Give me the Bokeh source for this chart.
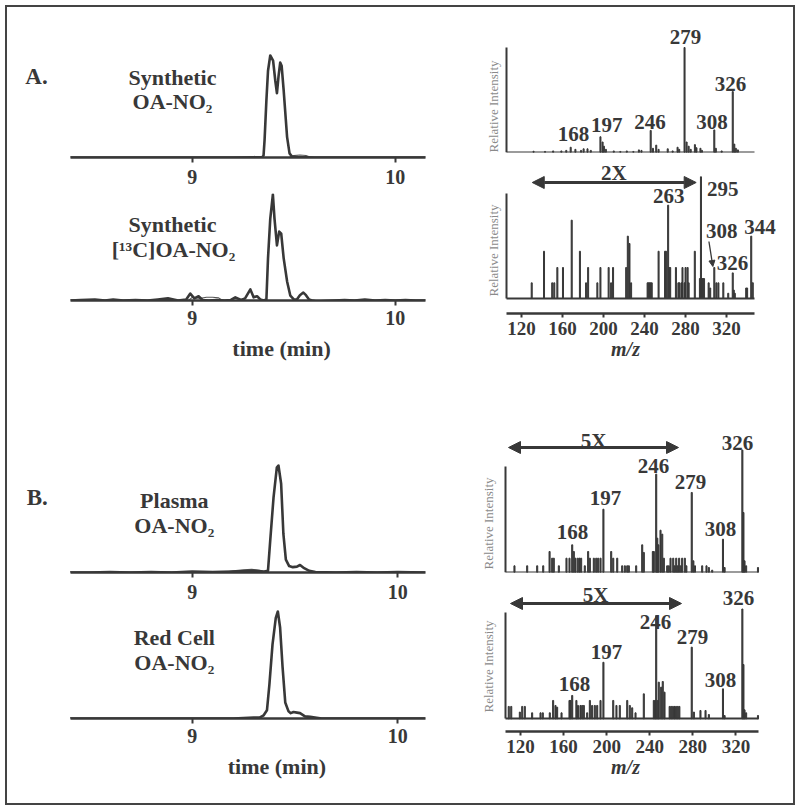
from math import pi
from bokeh.plotting import figure
from bokeh.models import Label, Arrow, NormalHead, FixedTicker, Range1d, LinearAxis
from bokeh.layouts import column, row
from bokeh.embed import file_html
from bokeh.resources import INLINE

FONT = "Liberation Serif"
INK = "#383838"

# ---------------- chromatogram data (time in min, intensity; peak = 100) ----------------
a1_t = [8.40, 8.60, 8.80, 9.00, 9.20, 9.30, 9.345, 9.351, 9.356, 9.365, 9.373, 9.384, 9.398, 9.409,
        9.417, 9.425, 9.433, 9.440, 9.450, 9.467, 9.479, 9.491, 9.52, 9.60, 9.80, 10.00, 10.15]
a1_v = [0, 0, 0, 0, 0, 0.3, 0.5, 2, 17, 56, 85, 100, 95, 75,
        63, 80, 93, 90, 66, 20, 4, 1, 0.5, 0, 0, 0, 0]
a1_thin_t = [9.48, 9.50, 9.53, 9.56, 9.58, 9.60]
a1_thin_v = [1, 2, 2.5, 2, 0.5, 0]

a2_t = [8.40, 8.45, 8.52, 8.57, 8.61, 8.66, 8.72, 8.78, 8.83, 8.88, 8.93, 8.97, 8.99, 9.01, 9.031,
        9.05, 9.08, 9.12, 9.16, 9.19, 9.212, 9.24, 9.26, 9.286, 9.302, 9.319, 9.335, 9.351, 9.365,
        9.373, 9.384, 9.397, 9.405, 9.417, 9.428, 9.438, 9.450, 9.467, 9.483, 9.50, 9.515, 9.53,
        9.547, 9.56, 9.575, 9.59, 9.614, 9.65, 9.70, 9.75, 9.80, 9.85, 9.90, 9.95, 10.00, 10.05,
        10.10, 10.15]
a2_v = [0, 0.5, 1, 0, 1, 0, 0.5, 0, 1, 2, 0, 1, 6.5, 2, 4,
        0.5, 0, 0.5, 0, 0.5, 3, 0.5, 2, 10.5, 3, 4, 1, 0, 1,
        40, 77, 100, 77, 52, 65, 63, 40, 18, 4.5, 1, 1, 5,
        7.5, 5, 1, 0, -1, -0.5, 0, 0.5, 0, 1, 0, 0.5, 0, 0.5,
        0, 0]
a2_thin_t = [8.98, 9.00, 9.04, 9.07, 9.10, 9.13, 9.15]
a2_thin_v = [0, 3, 2, 3, 3, 2.5, 0]

b1_t = [8.406, 8.50, 8.60, 8.70, 8.80, 8.90, 9.00, 9.10, 9.20, 9.30, 9.35, 9.369, 9.380, 9.396,
        9.412, 9.420, 9.433, 9.444, 9.456, 9.472, 9.49, 9.51, 9.525, 9.545, 9.57, 9.60, 9.70,
        9.80, 9.90, 10.00, 10.135]
b1_v = [0, 0, 0.5, 0, 0.5, 0, 1, 0.5, 1, 1.5, 1, 1.5, 30, 70,
        98, 100, 83, 36, 12, 6, 5, 5.5, 7, 4, 1.5, 0.5, 0,
        0.5, 0, 0.5, 0]
b1_thin_t = [9.15, 9.20, 9.25, 9.29, 9.33, 9.36]
b1_thin_v = [0, 1.5, 2.5, 3, 2, 0]

b2_t = [8.406, 8.60, 8.80, 9.00, 9.20, 9.25, 9.30, 9.33, 9.348, 9.364, 9.376, 9.391, 9.407,
        9.417, 9.428, 9.440, 9.453, 9.469, 9.48, 9.493, 9.51, 9.525, 9.549, 9.575, 9.598, 9.63,
        9.70, 9.80, 9.90, 10.00, 10.135]
b2_v = [0, 0, 0, 0, 0, 0.5, 1, 1, 3, 7.7, 32, 69, 94,
        100, 85, 48, 15, 6.7, 5, 6, 5.5, 5, 2, 1.5, 1, 0,
        0, 0, 0, 0, 0]

chrom_ticks = [9, 10]
time_a = (8.40, 10.15)      # extent of the time axes, panel A
time_b = (8.406, 10.135)    # extent of the time axes, panel B

# ---------------- MS/MS spectra (m/z, relative intensity) ----------------
sa1_mz = [131.8, 143, 150.9, 158.9, 163.7, 168, 172.6, 178.1, 180.6, 184.4, 187.6, 197, 199.1, 200.4,
          202.3, 210, 216.4, 222.7, 229.1, 234.5, 237, 246, 248.2, 251.4, 253.7, 262.6, 267.4, 272.2,
          273.8, 279, 281, 283, 285, 289.1, 290.6, 294.5, 296, 308, 309.5, 315.2, 326, 327.5, 329, 331]
sa1_int = [1.2, 1, 1.5, 1.5, 2, 5, 3, 2, 3.5, 3.5, 2, 15, 10, 6,
           3, 1.5, 1, 1.5, 1, 2.5, 2, 21, 4, 7, 3, 3.5, 1.5, 5,
           3, 100, 10, 6, 3, 7.5, 4.5, 4, 2, 21.5, 4, 1.5, 58, 8, 4, 2.5]

sa2_mz = [130, 142, 150, 152, 155, 160.5, 169, 177, 183, 185, 194, 197, 205, 207.4, 209.3, 222.1,
          223.7, 225.3, 226.9, 243, 244, 245, 246, 247, 253.7, 260, 261, 263, 264, 265, 270.6, 273,
          274, 276, 277, 279, 280, 282, 283, 289, 294, 295, 296, 297, 298, 302.5, 304, 308, 310,
          312, 316.8, 321.6, 326, 327, 328, 339.1, 340, 344, 345.5]
sa2_int = [14.9, 45, 14.9, 14.9, 29.5, 29.5, 74.6, 45, 14.9, 29.5, 14.9, 29.5, 29.5, 14.9, 29.5, 29.5,
           59.4, 52.4, 14.9, 14.9, 14.9, 14.9, 14.9, 14.9, 45, 45, 45, 88.9, 29.5, 29.5, 29.5, 14.9,
           14.9, 14.9, 29.5, 14.9, 29.5, 29.5, 14.9, 45, 19, 115.9, 19, 19, 19, 14.9, 10, 29.5, 14.9,
           14.9, 14.9, 5, 24.4, 8, 5, 10, 10, 59.4, 15]

sb1_mz = [114.4, 126.2, 135.5, 141.1, 147, 149.4, 150.9, 155.6, 162.7, 165.5, 168, 169.5, 171, 173.2,
          174.8, 176.3, 179.7, 182.8, 184.4, 188.1, 190.3, 192.1, 194.3, 197, 204.2, 206.1, 209.8,
          214.4, 216.9, 219.1, 220.6, 227.4, 233, 234.5, 242.9, 243.8, 246, 247, 248, 250, 251.6,
          253.1, 256.2, 257.7, 259.3, 261.8, 263.2, 264.6, 266, 267.3, 268.8, 270.1, 272.6, 274, 279,
          280.5, 282, 288.7, 292.7, 294.9, 298, 308, 309.5, 326, 327, 328, 329.5, 340.5]
sb1_int = [6.3, 6.3, 6.3, 6.3, 19.8, 13.5, 13.5, 6.3, 13.5, 13.5, 26.1, 19.8, 13.5, 13.5,
           13.5, 13.5, 6.3, 19.8, 13.5, 13.5, 13.5, 13.5, 13.5, 59.7, 19.8, 13.5, 13.5,
           6.3, 6.3, 6.3, 6.3, 6.3, 26.1, 18.9, 19.8, 19.8, 92.8, 32.4, 26.1, 39.9, 36.2,
           13.5, 6.3, 6.3, 13.5, 13.5, 6.3, 13.5, 6.3, 13.5, 6.3, 13.5, 13.5, 6.3, 75.5,
           11, 6.3, 6.3, 6.3, 4.7, 2.2, 31.4, 4.7, 115.5, 56.6, 11, 6.3, 4.7]

sb2_mz = [109.1, 111.4, 119.4, 121.6, 124, 130.8, 138.6, 140.7, 147.2, 150.3, 152.5, 154, 158.1, 165.5,
          166.5, 168, 171.9, 173.4, 175.7, 177.3, 178.8, 181.9, 184.4, 186.5, 189, 191.2, 194.3, 197,
          206.1, 209.1, 212.2, 219.1, 221.5, 223.7, 226.8, 234.5, 243.8, 245.1, 246, 247.5, 248.4,
          250.6, 252.1, 253.7, 258.5, 260, 261.5, 263, 264.5, 266, 267.5, 279, 281, 287.1, 291.8,
          294.9, 308, 309.5, 326, 327, 328, 329.5, 340.5]
sb2_int = [11.6, 11.6, 6.3, 11.6, 11.6, 5.6, 5.6, 5.6, 5.6, 17.2, 12.5, 10.9, 5.6, 17.2,
           17.2, 21.9, 17.2, 12.5, 12.5, 12.5, 12.5, 5.6, 17.2, 12.5, 12.5, 12.5, 17.2, 53,
           17.2, 12.5, 12.5, 17.2, 12.5, 10.3, 5.6, 23.4, 17.2, 17.2, 96.9, 17.2, 34.4,
           29.7, 35, 25, 11.6, 11.6, 11.6, 11.6, 11.6, 11.6, 11.6, 67.2, 6.3, 7.8, 7.8,
           4, 28.1, 3, 103, 50.9, 8.4, 5.6, 3.1]

mz_ticks = [120, 160, 200, 240, 280, 320]
mz_a = (105.6, 346.8)   # extent of the m/z axes, panel A
mz_b = (106.1, 341.4)   # extent of the m/z axes, panel B


# ---------------- helpers ----------------
def build(box, frame, xr, yr):
    L, R, T, B = box
    fl, fr, ft, fb = frame
    p = figure(width=R - L, height=B - T, x_range=Range1d(*xr), y_range=Range1d(*yr),
               min_border_left=fl - L, min_border_right=R - fr,
               min_border_top=ft - T, min_border_bottom=B - fb,
               x_axis_location=None, y_axis_location=None,
               output_backend="svg", toolbar_location=None)
    p.outline_line_color = None
    p.xgrid.visible = False
    p.ygrid.visible = False
    p.background_fill_color = "white"
    p.border_fill_color = "white"

    def to_data(px, py):
        return (xr[0] + (px - fl) / (fr - fl) * (xr[1] - xr[0]),
                yr[0] + (fb - py) / (fb - ft) * (yr[1] - yr[0]))
    return p, to_data


def xrange_for(frame, anchor_px, anchor_val, scale):
    fl, fr = frame[0], frame[1]
    return (anchor_val - (anchor_px - fl) / scale, anchor_val + (fr - anchor_px) / scale)


def put(p, td, px, py, text, size, style="bold", color=INK, align="center", angle=0.0):
    x, y = td(px, py)
    p.add_layout(Label(x=x, y=y, text=text, text_font=FONT, text_font_style=style,
                       text_font_size=f"{size}px", text_color=color, text_align=align,
                       text_baseline="middle", angle=angle))


def bare_axis(ax, width):
    ax.ticker = FixedTicker(ticks=[])
    ax.axis_line_color = INK
    ax.axis_line_width = width
    ax.major_tick_line_color = None
    ax.minor_tick_line_color = None
    ax.major_label_text_font_size = "0px"


def tick_axis(ticks, bounds, size, standoff, tick_out):
    ax = LinearAxis(ticker=FixedTicker(ticks=ticks), bounds=bounds)
    ax.axis_line_color = INK
    ax.axis_line_width = 2.5
    ax.major_tick_line_color = INK
    ax.major_tick_line_width = 2
    ax.major_tick_in = 0
    ax.major_tick_out = tick_out
    ax.minor_tick_line_color = None
    ax.major_label_text_font = FONT
    ax.major_label_text_font_style = "bold"
    ax.major_label_text_font_size = f"{size}px"
    ax.major_label_text_color = INK
    ax.major_label_standoff = standoff
    return ax


def chrom(box, frame, bounds, scale, yr, t, v, thin=None, standoff=7):
    xr = xrange_for(frame, 70, bounds[0], scale)
    p, td = build(box, frame, xr, yr)
    p.add_layout(tick_axis(chrom_ticks, bounds, 20, standoff, 5), "below")
    if thin is not None:
        p.line(thin[0], thin[1], line_color="#555555", line_width=1.1)
    p.line(t, v, line_color=INK, line_width=2.6, line_join="round")
    return p, td


def spec(box, frame, anchor, bounds, yr, mz, inten, xaxis):
    xr = xrange_for(frame, anchor[0], 120, anchor[1])
    p, td = build(box, frame, xr, yr)
    # vertical intensity axis at the low m/z end
    ya = LinearAxis(fixed_location=bounds[0], bounds=(0, 100))
    bare_axis(ya, 2)
    p.add_layout(ya, "left")
    # baseline at zero intensity
    base = LinearAxis(fixed_location=0, bounds=bounds)
    bare_axis(base, 2)
    p.add_layout(base, "below")
    if xaxis:
        xa = tick_axis(mz_ticks, bounds, 19, 4, 4)
        xa.axis_label = "m/z"
        xa.axis_label_text_font = FONT
        xa.axis_label_text_font_style = "bold italic"
        xa.axis_label_text_font_size = "20px"
        xa.axis_label_text_color = INK
        xa.axis_label_standoff = 0
        p.add_layout(xa, "below")
    p.vbar(x=mz, top=inten, width=1.0, fill_color=INK, line_color=INK, line_width=1.0)
    return p, td


def darrow(p, td, x0, x1, y):
    xs, ys = td(x0, y)
    xe, ye = td(x1, y)
    p.add_layout(Arrow(start=NormalHead(size=12, fill_color=INK, line_color=INK),
                       end=NormalHead(size=12, fill_color=INK, line_color=INK),
                       x_start=xs, y_start=ys, x_end=xe, y_end=ye,
                       line_color=INK, line_width=3))


# ---------------- left column: chromatograms ----------------
c1, t1 = chrom((7, 437, 7, 193), (10, 425, 40, 157), time_a, 203, (0, 117 / 1.02),
               a1_t, a1_v, (a1_thin_t, a1_thin_v))
put(c1, t1, 36, 76, "A.", 23)
put(c1, t1, 172, 77, "Synthetic", 22)
put(c1, t1, 172, 101, "OA-NO₂", 22)

c2, t2 = chrom((7, 437, 193, 333), (10, 425, 193, 300), time_a, 203, (0, 107 / 1.06),
               a2_t, a2_v, (a2_thin_t, a2_thin_v), standoff=5)
put(c2, t2, 172, 224, "Synthetic", 22)
put(c2, t2, 173, 249, "[¹³C]OA-NO₂", 22)

c3, t3 = chrom((7, 437, 333, 609), (10, 428, 333, 572), time_b, 207, (0, 239 / 1.07),
               b1_t, b1_v, (b1_thin_t, b1_thin_v))
put(c3, t3, 283, 347.5, "time (min)", 22)
put(c3, t3, 37, 497, "B.", 23)
put(c3, t3, 175, 500, "Plasma", 22)
put(c3, t3, 175, 525, "OA-NO₂", 22)

c4, t4 = chrom((7, 437, 609, 751), (10, 428, 609, 718), time_b, 207, (0, 109 / 1.07), b2_t, b2_v,
               standoff=5)
put(c4, t4, 175, 637, "Red Cell", 22)
put(c4, t4, 175, 662, "OA-NO₂", 22)

cap, tc = build((7, 437, 751, 803), (7, 437, 751, 803), (0, 1), (0, 1))
put(cap, tc, 283, 766, "time (min)", 22)

# ---------------- right column: spectra ----------------
GREY = "#8a8a8a"
FA = (459, 785)
FB = (465, 785)

s1, u1 = spec((437, 793, 7, 157), (FA[0], FA[1], 19, 152), (516, 1.045), mz_a, (0, 133 / 1.05),
              sa1_mz, sa1_int, False)
put(s1, u1, 488, 106, "Relative Intensity", 13, "normal", GREY, angle=pi / 2)
for px, py, txt in [(569, 133, "168"), (603, 124, "197"), (647, 121, "246"), (683, 36, "279"),
                    (710, 121, "308"), (729, 83, "326")]:
    put(s1, u1, px, py, txt, 21)

s2, u2 = spec((437, 793, 157, 368), (FA[0], FA[1], 157, 313), (516, 1.045), mz_a,
              (-15 / 1.05, 141 / 1.05), sa2_mz, sa2_int, True)
put(s2, u2, 488, 250, "Relative Intensity", 13, "normal", GREY, angle=pi / 2)
darrow(s2, u2, 527, 694, 182)
put(s2, u2, 610, 172, "2X", 21)
for px, py, txt in [(666, 195, "263"), (721, 188, "295"), (720, 230, "308"), (759, 226, "344"),
                    (731, 262, "326")]:
    put(s2, u2, px, py, txt, 21)
ax0, ay0 = u2(707, 241)
ax1, ay1 = u2(711, 266)
s2.add_layout(Arrow(end=NormalHead(size=6, fill_color=INK, line_color=INK),
                    x_start=ax0, y_start=ay0, x_end=ax1, y_end=ay1, line_color=INK, line_width=1.3))

s3, u3 = spec((437, 793, 368, 580), (FB[0], FB[1], 420, 572), (520, 1.077), mz_b, (0, 152 / 1.06),
              sb1_mz, sb1_int, False)
put(s3, u3, 488, 523, "Relative Intensity", 13, "normal", GREY, angle=pi / 2)
darrow(s3, u3, 508, 678, 447)
put(s3, u3, 593, 440, "5X", 21)
for px, py, txt in [(572, 531, "168"), (605, 497, "197"), (653, 465, "246"), (690, 481, "279"),
                    (720, 528, "308"), (737, 442, "326")]:
    put(s3, u3, px, py, txt, 21)

s4, u4 = spec((437, 793, 580, 803), (FB[0], FB[1], 580, 731), (520, 1.077), mz_b,
              (-12.7 / 1.066, 138.3 / 1.066), sb2_mz, sb2_int, True)
put(s4, u4, 488, 666, "Relative Intensity", 13, "normal", GREY, angle=pi / 2)
darrow(s4, u4, 510, 681, 603)
put(s4, u4, 595, 594, "5X", 21)
for px, py, txt in [(574, 683, "168"), (606, 651, "197"), (655, 621, "246"), (692, 636, "279"),
                    (720, 679, "308"), (738, 597, "326")]:
    put(s4, u4, px, py, txt, 21)

left = column(c1, c2, c3, c4, cap)
right = column(s1, s2, s3, s4)
layout = row(left, right, styles={"border": "2px solid #444444", "margin": "5px",
                                  "background-color": "white"})

open("out.html", "w").write(file_html(layout, INLINE))
